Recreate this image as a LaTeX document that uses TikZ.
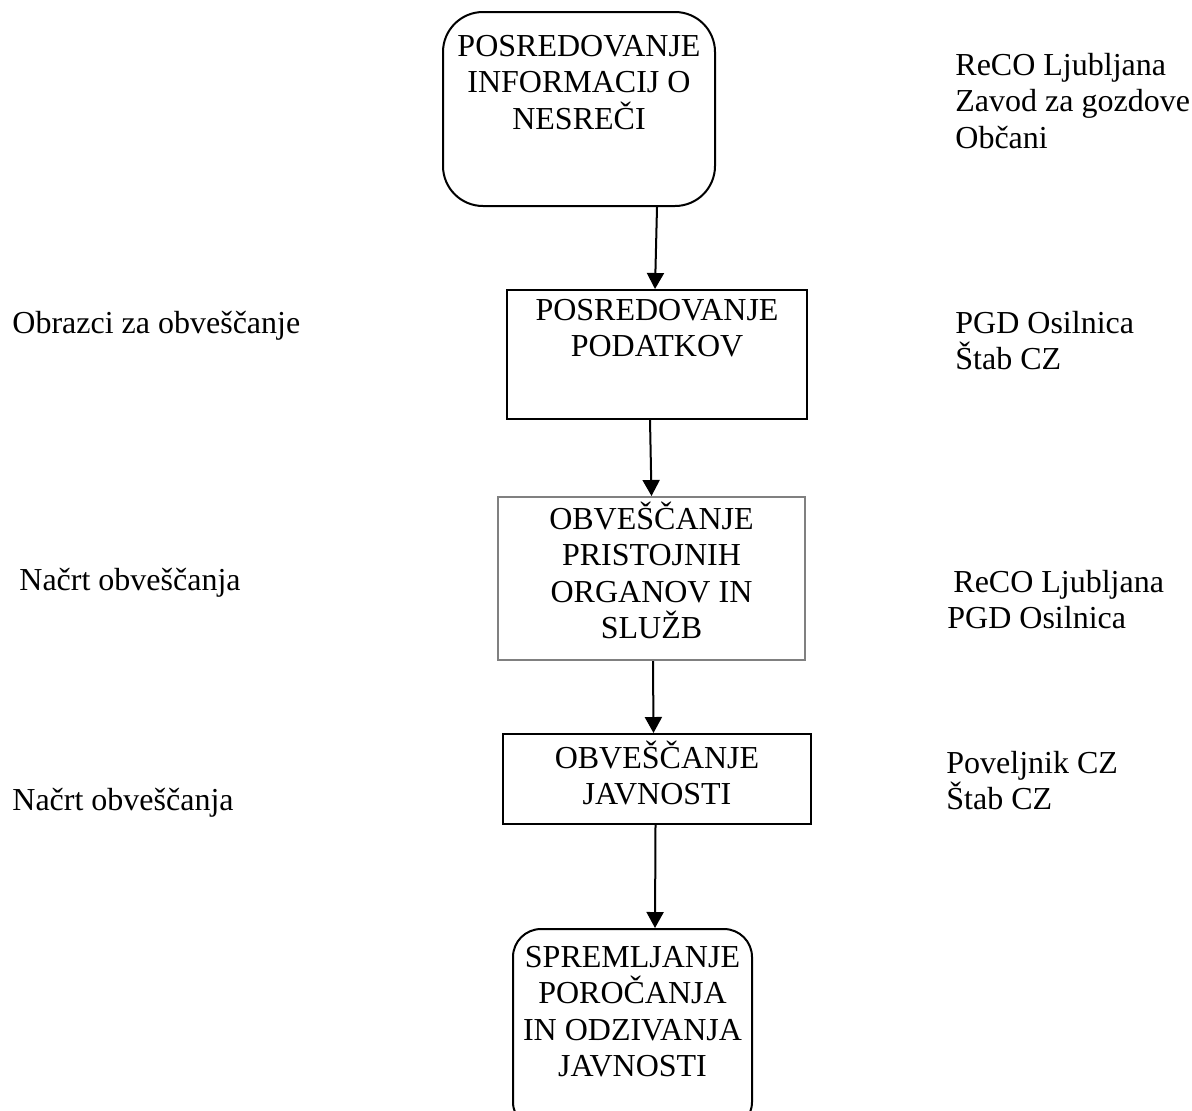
\documentclass[tikz,border=0pt]{standalone}
\usepackage{fontspec}
\setmainfont{Liberation Serif}
\usetikzlibrary{arrows.meta, positioning}
\setlength{\lineskiplimit}{-20pt}

\begin{document}
\begin{tikzpicture}[x=0.5pt, y=-0.5pt, box/.style = {draw, line width=1pt, inner sep=0pt},
  txt/.style = {inner sep=0pt, font=\fontsize{16}{18.25}\selectfont},
  arr/.style = {-{Triangle[length=8pt,width=8.5pt]}, line width=1pt}]
           \useasboundingbox (0,0) rectangle (1192,1110);

           \node[box, rounded corners=20pt, minimum width=136pt, minimum height=97pt]   (b1) at (579,109)    {};
           \node[box, minimum width=150pt, minimum height=64.5pt]                       (b2) at (657,354.5)  {};
           \node[box, draw=gray, minimum width=153.5pt, minimum height=81.5pt]          (b3) at (651.5,578.5) {};
           \node[box, minimum width=154pt, minimum height=45pt]                         (b4) at (657,779)    {};
           \node[box, rounded corners=14pt, minimum width=119.5pt, minimum height=100.5pt] (b5) at (632.5,1029.5) {};

           \node[txt, align=center, anchor=north] (t1) at ([yshift=-9.6pt]b1.north)  {\strut POSREDOVANJE\\INFORMACIJ O\\NESREČI};
           \node[txt, align=center, anchor=north] (t2) at ([yshift=-2.6pt]b2.north)  {\strut POSREDOVANJE\\PODATKOV};
           \node[txt, align=center, anchor=north] (t3) at ([yshift=-2.75pt]b3.north) {\strut OBVEŠČANJE\\PRISTOJNIH\\ORGANOV IN\\SLUŽB};
           \node[txt, align=center, anchor=north] (t4) at ([yshift=-3.55pt]b4.north) {\strut OBVEŠČANJE\\JAVNOSTI};
           \node[txt, align=center, anchor=north] (t5) at ([yshift=-6.75pt]b5.north) {\strut SPREMLJANJE\\POROČANJA\\IN ODZIVANJA\\JAVNOSTI};

           \node[txt, anchor=north west] (l1) at (12,307.5) {\strut Obrazci za obveščanje};
           \node[txt, anchor=north west] (l2) at (19,564.5) {\strut Načrt obveščanja};
           \node[txt, anchor=north west] (l3) at (12,784.5) {\strut Načrt obveščanja};

           \node[txt, align=left, anchor=north west] (r1) at (955,49.5)  {\strut ReCO Ljubljana\\Zavod za gozdove\\Občani};
           \node[txt, align=left, anchor=north west] (r2) at (955,307.5) {\strut PGD Osilnica\\Štab CZ};
           \node[txt, align=left, anchor=north west] (r3) at (947,566.2) {\strut\hspace{3pt}ReCO Ljubljana\\PGD Osilnica};
           \node[txt, align=left, anchor=north west] (r4) at (946,747.5) {\strut Poveljnik CZ\\Štab CZ};

           \path[arr]
           ([xshift=39pt]b1.south)    edge ([xshift=-1pt]b2.north)
           ([xshift=-3.5pt]b2.south)  edge (b3.north)
           ([xshift=0.75pt]b3.south)  edge ([xshift=-1.75pt]b4.north)
           ([xshift=-0.75pt]b4.south) edge ([xshift=11.25pt]b5.north);
\end{tikzpicture}
\end{document}
